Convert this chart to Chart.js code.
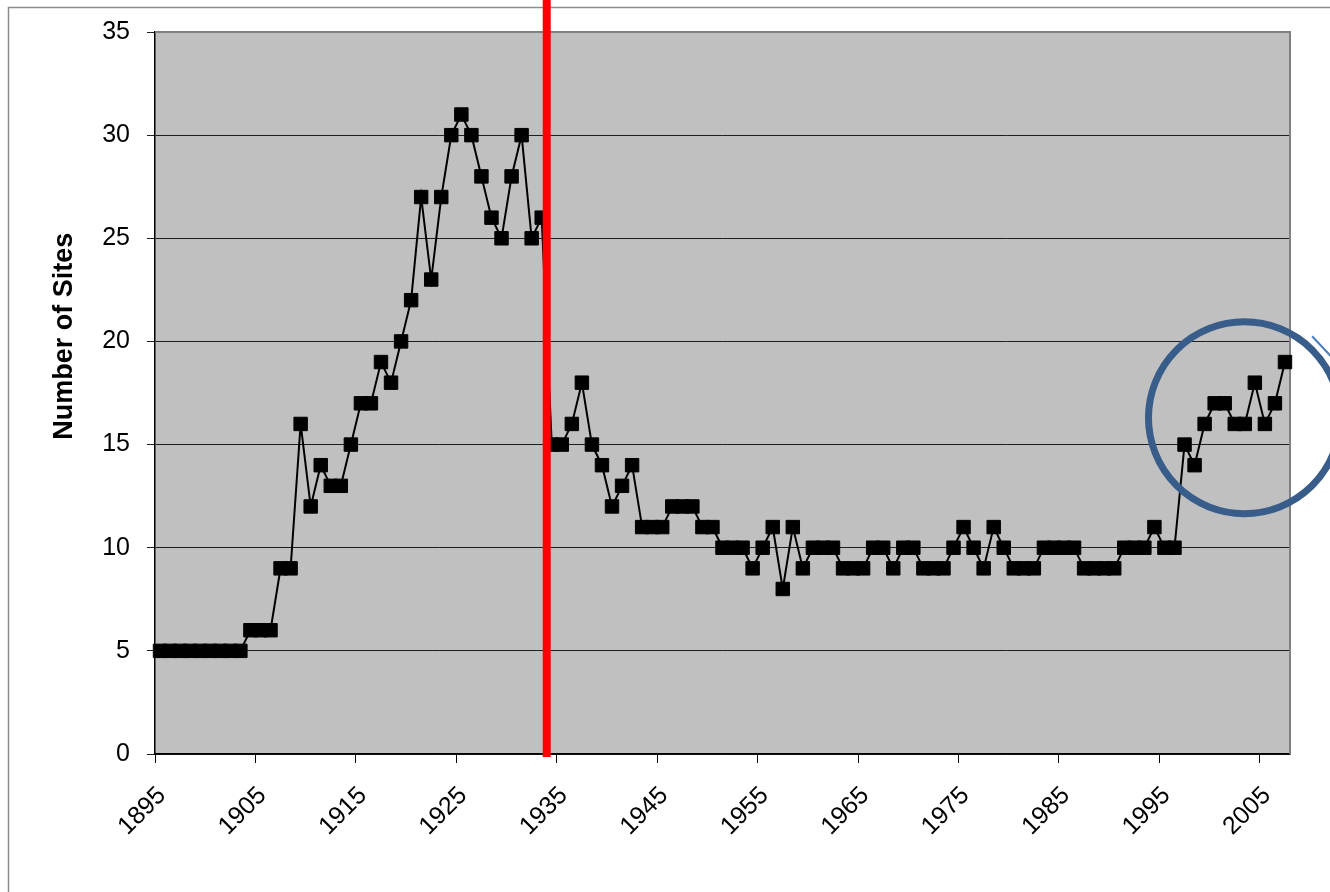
<!DOCTYPE html>
<html>
<head>
<meta charset="utf-8">
<script src="https://cdn.jsdelivr.net/npm/chart.js@4.4.1/dist/chart.umd.min.js"></script>
<style>
  html, body { margin: 0; padding: 0; background: #ffffff; }
  #wrap { width: 1330px; height: 892px; position: relative; }
</style>
</head>
<body>
<div id="wrap"><canvas id="chart" width="1330" height="892"></canvas></div>
<script>
// Number of sites recorded each year, 1895 through 2007
const firstYear = 1895;
const siteCounts = [
  5, 5, 5, 5, 5, 5, 5, 5, 5,          // 1895-1903
  6, 6, 6,                            // 1904-1906
  9, 9,                               // 1907-1908
  16, 12, 14, 13, 13, 15, 17, 17,     // 1909-1916
  19, 18, 20, 22, 27, 23, 27, 30,     // 1917-1924
  31, 30, 28, 26, 25, 28, 30, 25,     // 1925-1932
  26, 15, 15, 16, 18, 15, 14, 12,     // 1933-1940
  13, 14, 11, 11, 11, 12, 12, 12,     // 1941-1948
  11, 11, 10, 10, 10, 9, 10, 11,      // 1949-1956
  8, 11, 9, 10, 10, 10, 9, 9,         // 1957-1964
  9, 10, 10, 9, 10, 10, 9, 9,         // 1965-1972
  9, 10, 11, 10, 9, 11, 10, 9,        // 1973-1980
  9, 9, 10, 10, 10, 10, 9, 9,         // 1981-1988
  9, 9, 10, 10, 10, 11, 10, 10,       // 1989-1996
  15, 14, 16, 17, 17, 16, 16, 18,     // 1997-2004
  16, 17, 19                          // 2005-2007
];
const years = siteCounts.map((_, i) => firstYear + i);

// Axis ticks
const xTickYears = [1895, 1905, 1915, 1925, 1935, 1945, 1955, 1965, 1975, 1985, 1995, 2005];
const yTickValues = [0, 5, 10, 15, 20, 25, 30, 35];
const xRange = [1895, 2008];
const yRange = [0, 35];

// Annotations: the dividing year and the highlighted recent period
const dividerYear = 1934;
const highlight = { year: 2003.46, value: 16.3, yearRadius: 9.55, valueRadius: 4.65 };
const pointerLine = [[2010.2, 20.25], [2013.4, 18.6]];

const axisTitle = 'Number of Sites';
const fontFamily = "'Liberation Sans', Arial, sans-serif";

// each year is plotted in the middle of its one-year span
const points = years.map((yr, i) => ({ x: yr + 0.5, y: siteCounts[i] }));

const decorations = {
  id: 'decorations',
  beforeDraw(chart) {
    const { ctx, chartArea: a } = chart;
    ctx.save();
    // outer frame
    ctx.strokeStyle = '#8c8c8c';
    ctx.lineWidth = 1.5;
    ctx.beginPath();
    ctx.moveTo(8.5, 2000);
    ctx.lineTo(8.5, 7.5);
    ctx.lineTo(2000, 7.5);
    ctx.stroke();
    // plot background
    ctx.fillStyle = '#c0c0c0';
    ctx.fillRect(a.left, a.top, a.right - a.left, a.bottom - a.top);
    ctx.restore();
  },
  beforeDatasetsDraw(chart) {
    const { ctx, chartArea: a } = chart;
    ctx.save();
    ctx.strokeStyle = '#808080';
    ctx.lineWidth = 2;
    ctx.beginPath();
    ctx.moveTo(a.left, a.top);
    ctx.lineTo(a.right, a.top);
    ctx.lineTo(a.right, a.bottom);
    ctx.stroke();
    ctx.restore();
  },
  afterDraw(chart) {
    const { ctx, chartArea: a, scales: { x, y } } = chart;
    ctx.save();
    // vertical divider
    const dx = x.getPixelForValue(dividerYear);
    ctx.strokeStyle = '#ff0000';
    ctx.lineWidth = 8;
    ctx.beginPath();
    ctx.moveTo(dx, 0);
    ctx.lineTo(dx, a.bottom + 3);
    ctx.stroke();

    // ring around the recent rise
    const cx = x.getPixelForValue(highlight.year);
    const cy = y.getPixelForValue(highlight.value);
    const rx = x.getPixelForValue(highlight.year + highlight.yearRadius) - cx;
    const ry = cy - y.getPixelForValue(highlight.value + highlight.valueRadius);
    ctx.strokeStyle = '#385d8a';
    ctx.lineWidth = 7;
    ctx.beginPath();
    ctx.ellipse(cx, cy, rx, ry, 0, 0, Math.PI * 2);
    ctx.stroke();

    // pointer coming in from the right
    ctx.strokeStyle = '#4a7ebb';
    ctx.lineWidth = 2;
    ctx.beginPath();
    ctx.moveTo(x.getPixelForValue(pointerLine[0][0]), y.getPixelForValue(pointerLine[0][1]));
    ctx.lineTo(x.getPixelForValue(pointerLine[1][0]), y.getPixelForValue(pointerLine[1][1]));
    ctx.stroke();

    // y axis title
    ctx.fillStyle = '#000000';
    ctx.font = 'bold 27px ' + fontFamily;
    ctx.textAlign = 'center';
    ctx.textBaseline = 'alphabetic';
    ctx.translate(72, y.getPixelForValue(20.25));
    ctx.rotate(-Math.PI / 2);
    ctx.fillText(axisTitle, 0, 0);
    ctx.restore();
  }
};

new Chart(document.getElementById('chart'), {
  type: 'line',
  data: {
    datasets: [{
      data: points,
      borderColor: '#000000',
      borderWidth: 2,
      tension: 0,
      pointStyle: 'rect',
      pointRadius: 9.5,
      pointBackgroundColor: '#000000',
      pointBorderColor: '#000000',
      pointBorderWidth: 1,
      clip: false
    }]
  },
  options: {
    responsive: false,
    animation: false,
    devicePixelRatio: 1,
    layout: { padding: { top: 31, right: 40, left: 0, bottom: 0 } },
    plugins: { legend: { display: false }, tooltip: { enabled: false } },
    scales: {
      x: {
        type: 'linear',
        min: xRange[0],
        max: xRange[1],
        afterBuildTicks: (s) => { s.ticks = xTickYears.map(v => ({ value: v })); },
        afterFit: (s) => { s.height = 138; },
        grid: { drawOnChartArea: false, drawTicks: true, tickLength: 9, color: '#000000', lineWidth: 1 },
        border: { display: true, color: '#000000', width: 1.5 },
        ticks: {
          minRotation: 45, maxRotation: 45, autoSkip: false,
          padding: 18,
          labelOffset: 7,
          color: '#000000',
          font: { family: fontFamily, size: 25 },
          callback: (v) => String(v)
        }
      },
      y: {
        min: yRange[0],
        max: yRange[1],
        afterBuildTicks: (s) => { s.ticks = yTickValues.map(v => ({ value: v })); },
        afterFit: (s) => { s.width = 155; },
        grid: { color: '#1e1e1e', lineWidth: 1, tickLength: 8, drawTicks: true },
        border: { display: true, color: '#000000', width: 1.5 },
        ticks: {
          padding: 17,
          color: '#000000',
          font: { family: fontFamily, size: 25 },
          callback: (v) => String(v)
        }
      }
    }
  },
  plugins: [decorations]
});
</script>
</body>
</html>
